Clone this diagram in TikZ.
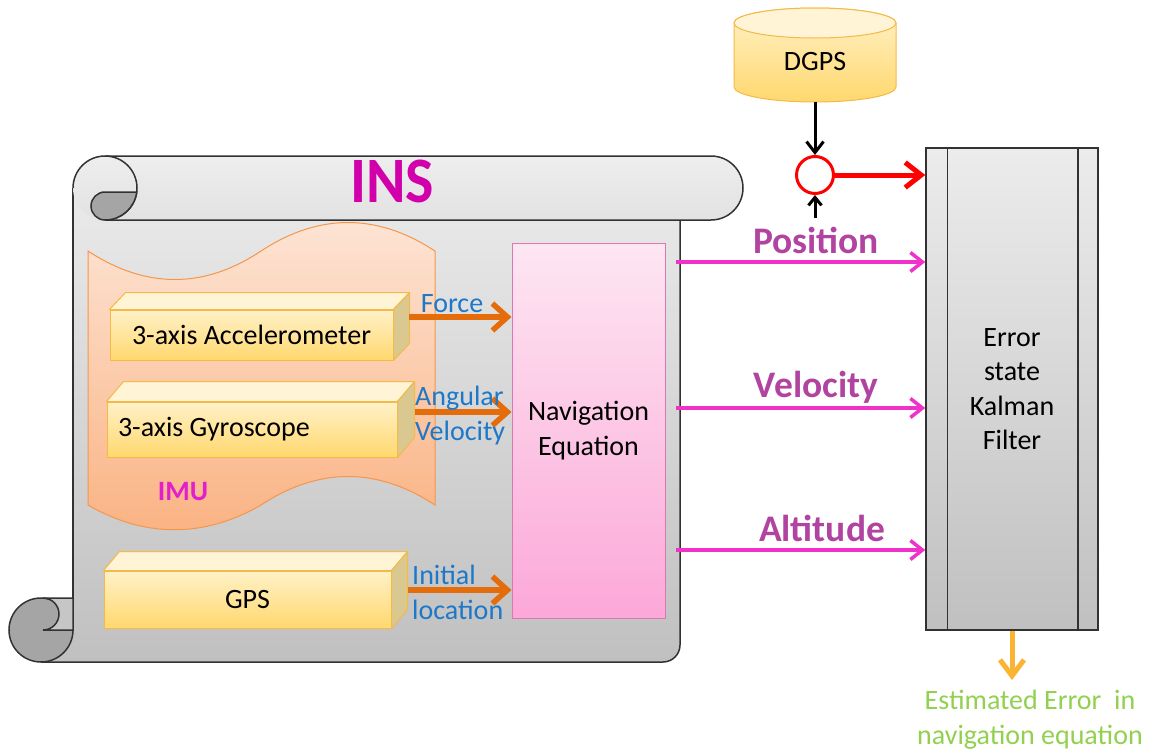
\documentclass[tikz,border=0pt]{standalone}
\usepackage{fontspec}
\setmainfont{Carlito}
\usetikzlibrary{arrows.meta,calc}

\definecolor{rollA}{RGB}{238,238,238}
\definecolor{rollB}{RGB}{226,226,226}
\definecolor{bodyA}{RGB}{234,234,234}
\definecolor{bodyB}{RGB}{192,192,192}
\definecolor{curlgray}{RGB}{165,165,165}
\definecolor{outline}{RGB}{50,50,50}
\definecolor{imuA}{RGB}{253,229,214}
\definecolor{imuB}{RGB}{250,178,130}
\definecolor{imuedge}{RGB}{245,150,75}
\definecolor{cubeedge}{RGB}{244,185,70}
\definecolor{cubetop}{RGB}{255,244,214}
\definecolor{cubeA}{RGB}{255,241,200}
\definecolor{cubeB}{RGB}{255,216,110}
\definecolor{cubeside}{RGB}{218,200,145}
\definecolor{navA}{RGB}{253,230,242}
\definecolor{navB}{RGB}{252,168,216}
\definecolor{navedge}{RGB}{218,120,180}
\definecolor{oarr}{RGB}{228,108,10}
\definecolor{pinkarr}{RGB}{240,50,200}
\definecolor{lblblue}{RGB}{30,120,200}
\definecolor{lblpurple}{RGB}{176,68,160}
\definecolor{insmag}{RGB}{210,0,170}
\definecolor{imumag}{RGB}{228,30,205}
\definecolor{outarr}{RGB}{250,180,50}
\definecolor{outgreen}{RGB}{146,208,80}
\definecolor{kfA}{RGB}{236,236,236}
\definecolor{kfB}{RGB}{192,192,192}

\newcommand\fsz[2]{\fontsize{#1}{#2}\selectfont}
\newcommand\cubefaces[3]{%
  \draw[cubeline, fill=cubetop] (#1.north west) -- ++(#2,#3) -- ($(#1.north east)+(#2,#3)$) -- (#1.north east) -- cycle;
  \draw[cubeline, fill=cubeside] (#1.north east) -- ++(#2,#3) -- ($(#1.south east)+(#2,#3)$) -- (#1.south east) -- cycle;
}

\begin{document}
\begin{tikzpicture}[x=1pt,y=-1pt,
  scrollline/.style={draw=outline, line width=1.5pt},
  cubeline/.style={draw=cubeedge, line width=1pt, line join=round},
  cubefront/.style={draw=cubeedge, line width=1pt, top color=cubeA, bottom color=cubeB,
    inner sep=0pt, font=\fsz{28}{34}},
  oarrow/.style={draw=oarr, line width=5.5pt, -{Straight Barb[length=15pt,width=27pt]}},
  parrow/.style={draw=pinkarr, line width=3.5pt, -{Straight Barb[length=12pt,width=19pt]}},
  blkarrow/.style={draw=black, line width=3pt, -{Straight Barb[length=11pt,width=17pt]}},
  redarrow/.style={draw=red, line width=5pt, -{Straight Barb[length=16pt,width=25pt]}},
  yarrow/.style={draw=outarr, line width=5pt, -{Straight Barb[length=16pt,width=24pt]}},
  smalllbl/.style={font=\fsz{28}{35}, text=lblblue, inner sep=0pt, align=left},
  biglbl/.style={font=\bfseries\fsz{37.5}{40}, text=lblpurple, inner sep=0pt},
]
\useasboundingbox (0,0) rectangle (1152,753);

% ---------- INS scroll ----------
% body of the scroll
\path[top color=bodyA, bottom color=bodyB]
  (73,188) -- (73,598) -- (41,598) -- (41,662) -- (663,662)
  arc[start angle=90,end angle=0,radius=17] -- (680,188) -- cycle;
\draw[scrollline] (73,188) -- (73,630);
\draw[scrollline] (41,662) -- (663,662) arc[start angle=90,end angle=0,radius=17] -- (680,220);
% lower left curl
\draw[scrollline, fill=curlgray] (41,630) circle[radius=32];
\draw[scrollline, fill=bodyB!90!white] (43,598) -- (73,598) -- (73,630) -- (43,630)
  arc[start angle=90,end angle=-90,radius=16] -- cycle;
% upper roll
\path[top color=rollA, bottom color=rollB]
  (73,188) arc[start angle=180,end angle=270,radius=32] -- (711,156)
  arc[start angle=-90,end angle=90,radius=32] -- (105,220)
  arc[start angle=90,end angle=180,radius=32] -- cycle;
\draw[scrollline] (105,220) -- (711,220) arc[start angle=90,end angle=-90,radius=32]
  -- (105,156) arc[start angle=270,end angle=180,radius=32];
\draw[scrollline] (105,156) arc[start angle=-90,end angle=90,radius=32];
\draw[scrollline, fill=curlgray] (105,192) -- (136.75,192)
  arc[start angle=7.18,end angle=90,radius=32]
  arc[start angle=90,end angle=270,radius=14] -- cycle;
\node[font=\bfseries\fsz{60}{60}, text=insmag, inner sep=0pt, yscale=1.08] (ins) at (392,181) {INS};

% ---------- IMU ----------
\path[draw=imuedge, line width=1pt, top color=imuA, bottom color=imuB]
  (88,251) .. controls (146,289) and (204,289) .. (261,251)
  .. controls (319,213) and (377,213) .. (435,251)
  -- (435,505)
  .. controls (377,467) and (319,467) .. (261,505)
  .. controls (204,538) and (145,538) .. (88,505) -- cycle;
\node[font=\bfseries\fsz{28}{30}, text=imumag, inner sep=0pt] (imu) at (183,492) {IMU};

% ---------- sensor blocks ----------
\node[cubefront, minimum width=283pt, minimum height=50pt] (acc) at (251.5,335) {3-axis Accelerometer};
\cubefaces{acc}{16}{-17}
\node[cubefront, minimum width=290pt, minimum height=55pt, text width=290pt, align=flush left] (gyro) at (252,429.5) {\hspace*{11pt}3-axis Gyroscope};
\cubefaces{gyro}{17}{-20}
\node[cubefront, minimum width=287pt, minimum height=57pt] (gps) at (247.5,599.5) {GPS};
\cubefaces{gps}{16}{-19}

% ---------- navigation equation ----------
\node[draw=navedge, line width=1pt, top color=navA, bottom color=navB,
  minimum width=153pt, minimum height=375pt, align=center, font=\fsz{28}{35}] (nav)
  at (588.5,430.5) {Navigation\\Equation};

% sensor outputs
\coordinate (f0) at ($(acc.east)+(15,-18)$);
\coordinate (w0) at ($(gyro.east)+(17,-17.5)$);
\coordinate (l0) at ($(gps.east)+(16,-9.5)$);
\draw[oarrow] (f0) -- (f0 -| nav.west);
\draw[oarrow] (w0) -- (w0 -| nav.west);
\draw[oarrow] (l0) -- (l0 -| nav.west);
\node[smalllbl] (lforce) at (452,304) {Force};
\node[smalllbl, anchor=west] (lang) at (415,416) {Angular\\Velocity};
\node[smalllbl, anchor=west] (linit) at (412,592) {Initial\\location};

% ---------- Kalman filter ----------
\node[draw=outline, line width=1.5pt, top color=kfA, bottom color=kfB,
  minimum width=172pt, minimum height=482pt, align=center, font=\fsz{28}{34.5}] (kf)
  at (1012,389) {Error\\state\\Kalman\\Filter};
\draw[scrollline] ($(kf.north west)+(22,0)$) -- ($(kf.south west)+(22,0)$);
\draw[scrollline] ($(kf.north east)+(-21,0)$) -- ($(kf.south east)+(-21,0)$);

% navigation outputs
\coordinate (p0) at (676,262);
\coordinate (v0) at (676,408);
\coordinate (a0) at (676,550);
\draw[parrow] (p0) -- (p0 -| kf.west);
\draw[parrow] (v0) -- (v0 -| kf.west);
\draw[parrow] (a0) -- (a0 -| kf.west);
\node[biglbl] (lpos) at (816,240) {Position};
\node[biglbl] (lvel) at (816,387) {Velocity};
\node[biglbl] (lalt) at (822,528) {Altitude};

% ---------- DGPS ----------
\path[draw=cubeedge, line width=1pt, top color=cubeA, bottom color=cubeB]
  (734,23) -- (734,87) arc[start angle=180,end angle=0,x radius=81,y radius=15]
  -- (896,23) arc[start angle=0,end angle=-180,x radius=81,y radius=15] -- cycle;
\draw[cubeline, fill=cubetop] (815,23) ellipse[x radius=81,y radius=15];
\node[font=\fsz{28}{30}, inner sep=0pt] (dgps) at (815,62) {DGPS};
\coordinate (dgpsbot) at (815,102);

\node[circle, draw=red, line width=3pt, fill=white, minimum size=37pt, inner sep=0pt] (sum) at (815,175) {};
\coordinate (sumfeed) at (815,218);
\draw[blkarrow] (dgpsbot) -- (sum.north);
\draw[blkarrow, -{Straight Barb[length=8pt,width=13pt]}] (sumfeed) -- (sum.south);
\draw[redarrow] (sum.east) -- (sum.east -| kf.west);

% ---------- estimated error ----------
\coordinate (kfout) at (1012,680);
\draw[yarrow] (kf.south) -- (kfout);
\node[font=\fsz{28}{35}, text=outgreen, align=center, inner sep=0pt] (est) at (1030,720)
  {Estimated Error\ \ in\\navigation equation};
\end{tikzpicture}
\end{document}
